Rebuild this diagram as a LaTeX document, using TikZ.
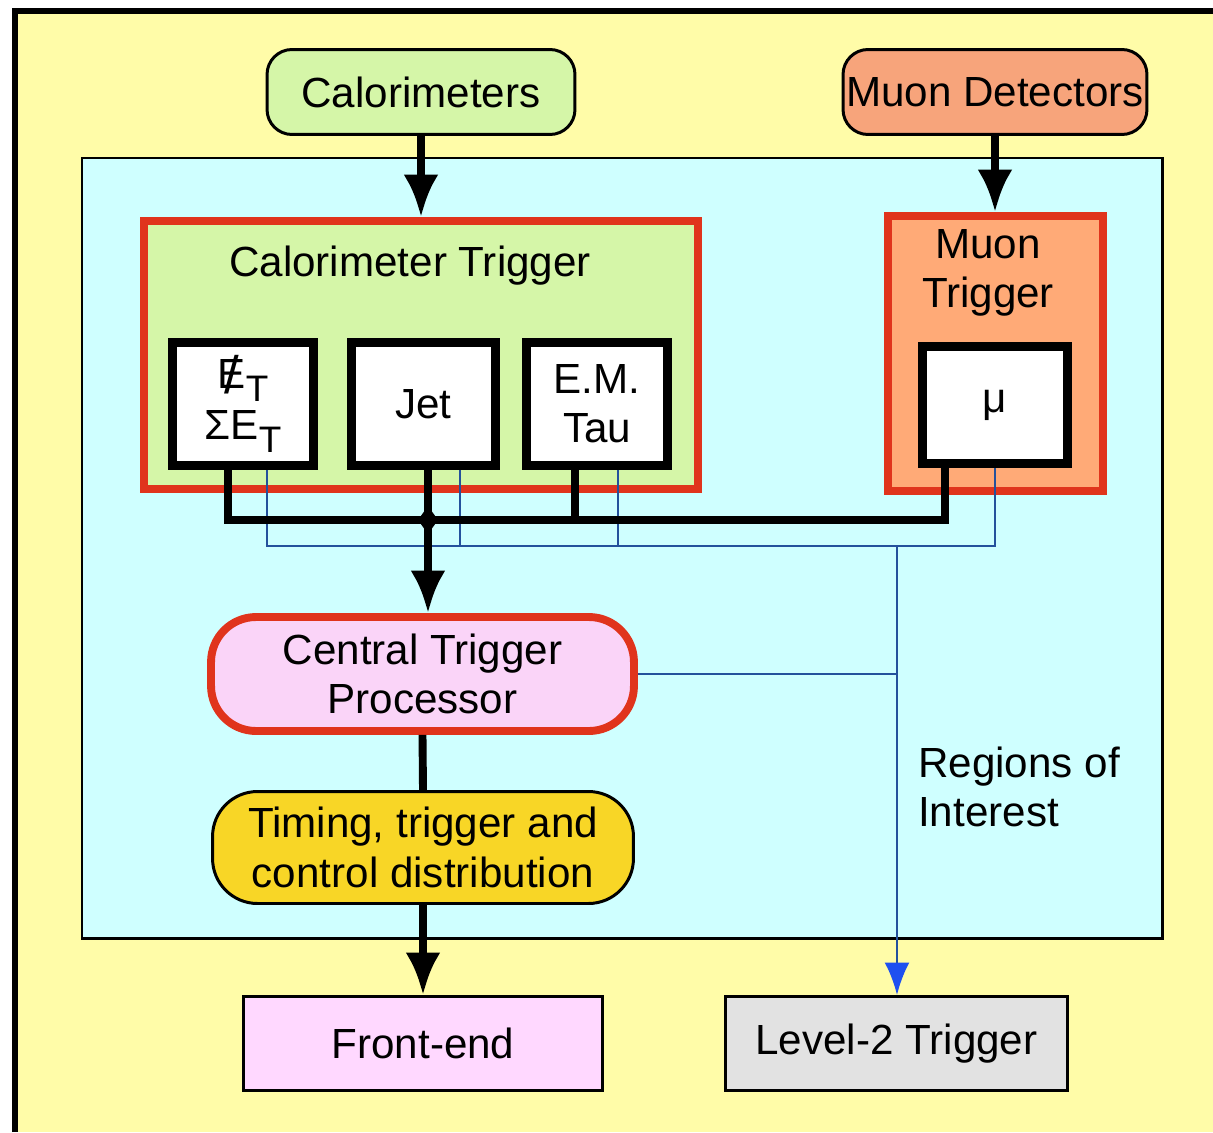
\documentclass[tikz,border=0pt]{standalone}
\usepackage{fontspec}
\setmainfont{Liberation Sans}
\usepackage{tikz}
\usetikzlibrary{arrows.meta}

\definecolor{bgyellow}{HTML}{FFFCA8}
\definecolor{corecyan}{HTML}{CFFFFF}
\definecolor{calgreen}{HTML}{D5F6A8}
\definecolor{muonorange}{HTML}{F7A47B}
\definecolor{muonfill}{HTML}{FFAA77}
\definecolor{trigred}{HTML}{E0341C}
\definecolor{ctppink}{HTML}{FAD4F8}
\definecolor{ttcgold}{HTML}{F8D626}
\definecolor{fepink}{HTML}{FFD8FF}
\definecolor{l2gray}{HTML}{E2E2E2}
\definecolor{roiblue}{HTML}{24519C}
\definecolor{tipblue}{HTML}{1E50F0}

\newcommand{\lowT}{\raisebox{-0.3em}{\fontsize{21}{21}\selectfont T}}
\newcommand{\slashE}{\makebox[0pt][l]{\hspace{0.16em}\raisebox{-0.12em}{\fontsize{30}{30}\selectfont /}}E}

\begin{document}
\begin{tikzpicture}[x=0.02cm,y=-0.02cm,
    font=\fontsize{24}{28}\selectfont,
    box/.style={draw=black,line width=1.7pt,inner sep=0pt,align=center},
    trig/.style={draw=trigred,line width=4.5pt,inner sep=0pt,align=center},
    sub/.style={draw=black,line width=5pt,fill=white,inner sep=0pt,align=center},
    bus/.style={line width=4.5pt,black},
    arr/.style={bus,-{Latex[length=0.85cm,width=0.7cm]}},
    roi/.style={line width=1.6pt,roiblue},
    roiarr/.style={roi,-{Latex[length=0.65cm,width=0.5cm,color=tipblue]}}]
    \useasboundingbox (0,0) rectangle (1213,1132);
    \fill[white] (0,0) rectangle (1213,1132);
    \fill[bgyellow] (15,11) rectangle (1213,1132);
    \draw[line width=0.12cm] (15,1132) -- (15,11) -- (1213,11);
    \draw[line width=1.7pt,fill=corecyan] (82,158) rectangle (1162,938);

    \node[box,rounded corners=0.5cm,fill=calgreen,minimum width=6.16cm,minimum height=1.7cm] (cal) at (421,92) {Calorimeters};
    \node[box,rounded corners=0.5cm,fill=muonorange,minimum width=6.08cm,minimum height=1.7cm] (muondet) at (995,92) {Muon Detectors};

    \node[trig,fill=calgreen,minimum width=11.08cm,minimum height=5.36cm] (caltrig) at (421,355) {};
    \node (caltitle) at (410,266) {Calorimeter Trigger};
    \node[sub,minimum width=2.82cm,minimum height=2.46cm] (etbox) at (243,404) {\slashE\lowT\\[1pt]ΣE\lowT};
    \node[sub,minimum width=2.88cm,minimum height=2.46cm] (jetbox) at (423.5,404) {Jet};
    \node[sub,minimum width=2.82cm,minimum height=2.46cm] (embox) at (597,404) {E.M.\\Tau};

    \node[trig,fill=muonfill,minimum width=4.3cm,minimum height=5.5cm] (muontrig) at (995.5,353.5) {};
    \node[align=center] (muontitle) at (988,273) {Muon\\Trigger};
    \node[sub,minimum width=2.9cm,minimum height=2.34cm] (mubox) at (995,405) {μ};

    \node[trig,rounded corners=0.9cm,fill=ctppink,minimum width=8.46cm,minimum height=2.28cm] (ctp) at (422.5,674) {Central Trigger\\Processor};
    \node[box,rounded corners=0.9cm,fill=ttcgold,minimum width=8.42cm,minimum height=2.24cm] (ttc) at (423,847.5) {Timing, trigger and\\control distribution};
    \node[box,fill=fepink,minimum width=7.18cm,minimum height=1.88cm] (fe) at (423,1043.5) {Front-end};
    \node[box,fill=l2gray,minimum width=6.84cm,minimum height=1.88cm] (lvl2) at (896.5,1043.5) {Level-2 Trigger};
    \node[align=left,anchor=west] (roilabel) at (912,787) {Regions of\\Interest};

    \coordinate (junc) at (428,520);
    \coordinate (roibus) at (897,546);

    \draw[roi] ([xshift=0.48cm]etbox.south) |- (roibus) -| (mubox.south);
    \draw[roi] ([xshift=0.73cm]jetbox.south) |- (roibus);
    \draw[roi] ([xshift=0.42cm]embox.south) |- (roibus);
    \draw[roi] (ctp.east) -- (ctp.east -| roibus);
    \draw[roiarr] (roibus) -- (roibus |- lvl2.north);

    \draw[bus] ([xshift=-0.3cm]etbox.south) |- (junc) -| ([xshift=-1cm]mubox.south);
    \draw[bus] ([xshift=-0.44cm]embox.south) |- (junc);
    \draw[bus] (jetbox.south -| junc) -- (junc);

    \path[arr] (cal) edge (cal |- caltrig.north)
               (muondet) edge (muondet |- muontrig.north)
               (junc) edge (junc |- ctp.north)
               (ttc.south) edge (fe.north);
    \draw[bus] (ctp.south) -- (ttc.north);
    \fill (junc) ++(0,-14) -- ++(10,14) -- ++(-10,14) -- ++(-10,-14) -- cycle;
\end{tikzpicture}
\end{document}
